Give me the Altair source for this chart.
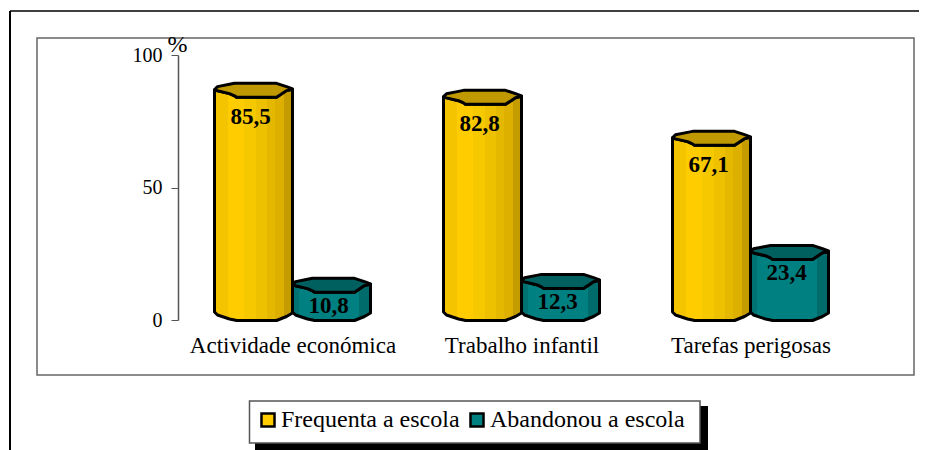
import altair as alt
import pandas as pd

categories = ["Actividade económica", "Trabalho infantil", "Tarefas perigosas"]
series = ["Frequenta a escola", "Abandonou a escola"]
frequenta = [85.5, 82.8, 67.1]
abandonou = [10.8, 12.3, 23.4]
y_ticks = [0, 50, 100]

SERIF = "Liberation Serif"
STEP = 229.0      # px per category
UNIT = 2.65       # px per y unit
BAR = 78.0
# 3-D look of the octagonal cylinder, in px around its top and base centre lines
PX = [0, 3, 15, 20, 22, 60, 62, 72, 78]
UP = [-0.5, -3.7, -6, -7, -7, -7, -7, -3.7, -1.5]
LOW = [-0.5, 0.5, 3.3, 5.5, 7, 7, 7, 0.3, -1]
BASE = [-1.5, 1.5, 5.5, 6.5, 7, 7, 7, 3, -0.5]
BASE_C = 6.5 / UNIT


def top_c(v):
    return BASE_C + v * 0.985


rows, labels = [], []
for s, (name, vals) in enumerate(zip(series, [frequenta, abandonou])):
    for i, v in enumerate(vals):
        left = i + 0.5 + (s - 1) * BAR / STEP
        bar = f"{s}-{i}"
        for px, u, l, b in zip(PX, UP, LOW, BASE):
            rows.append({
                "s": name, "bar": bar, "x": left + px / STEP,
                "up": top_c(v) - u / UNIT, "low": top_c(v) - l / UNIT,
                "base": BASE_C - b / UNIT,
            })
        labels.append({
            "s": name, "x": left + BAR / 2 / STEP, "y": top_c(v),
            "t": f"{v:.1f}".replace(".", ","),
        })
df = pd.DataFrame(rows)
lab = pd.DataFrame(labels)


def grad(stops):
    out = []
    for k, (a, b, c) in enumerate(stops):
        out += [alt.GradientStop(offset=a, color=c), alt.GradientStop(offset=b, color=c)]
    return alt.LinearGradient(gradient="linear", stops=out, x1=0, x2=1, y1=0, y2=0)


YEL = grad([(0, .17, "#F5C400"), (.17, .38, "#FFCC00"), (.38, .53, "#F6C800"), (.53, .67, "#EDC000"),
            (.67, .78, "#E5B800"), (.78, .89, "#DDB000"), (.89, 1, "#C49C00")])
TEA = grad([(0, .08, "#007272"), (.08, .85, "#008080"), (.85, 1, "#006B6B")])
TOPS = {series[0]: "#C09900", series[1]: "#006060"}
BODY = {series[0]: YEL, series[1]: TEA}

xs = alt.Scale(domain=[0, 3], nice=False, zero=False)
ys = alt.Scale(domain=[0, 100], nice=False)
X = alt.X("x:Q", scale=xs, axis=alt.Axis(
    values=[0.5, 1.5, 2.5], title=None, domain=False, ticks=False, grid=False,
    labelExpr=f"{categories!r}[floor(datum.value)]", labelFont=SERIF, labelFontSize=23,
    labelLimit=400, labelColor="black", labelPadding=14, labelOverlap=False, labelFlush=False, zindex=1))
Y = alt.Y("low:Q", scale=ys, axis=alt.Axis(
    values=y_ticks, title="%", titleAngle=0, titleX=-1, titleY=-11, titleAlign="center",
    titleBaseline="middle", titleFont=SERIF,
    titleFontSize=24, titleFontWeight="normal", titleColor="black",
    grid=False, domainColor="#555555", domainWidth=1.5, tickColor="#555555", tickSize=7,
    labelFont=SERIF, labelFontSize=20, labelColor="black", labelPadding=9, zindex=1))

one = pd.DataFrame({"a": [0]})
layers = []
# decoration: page frames, the legend shadow and the legend box
layers.append(alt.Chart(one).mark_rule(color="black", strokeWidth=1.5).encode(
    x=alt.value(-168), x2=alt.value(749), y=alt.value(-44)))
layers.append(alt.Chart(one).mark_rule(color="black", strokeWidth=2).encode(
    x=alt.value(-168), y=alt.value(-44), y2=alt.value(395)))
layers.append(alt.Chart(one).mark_rect(fill="white", stroke="#666666", strokeWidth=1.5).encode(
    x=alt.value(-141), x2=alt.value(736), y=alt.value(-17), y2=alt.value(320)))
layers.append(alt.Chart(one).mark_rect(fill="black").encode(
    x=alt.value(77), x2=alt.value(530), y=alt.value(351), y2=alt.value(395)))
layers.append(alt.Chart(one).mark_rect(fill="white", stroke="#555555", strokeWidth=1.5).encode(
    x=alt.value(71.5), x2=alt.value(522), y=alt.value(346), y2=alt.value(388)))

for name in series:
    d = df[df.s == name]
    layers.append(alt.Chart(d).mark_area(color=BODY[name], orient="vertical", stroke="black", strokeWidth=3, strokeJoin="round").encode(
        x=X, y=Y, y2="base:Q", detail="bar:N"))
    layers.append(alt.Chart(d).mark_area(color=TOPS[name], orient="vertical", stroke="black", strokeWidth=3, strokeJoin="round").encode(
        x=alt.X("x:Q", scale=xs), y=alt.Y("up:Q", scale=ys), y2="low:Q", detail="bar:N"))

legend = alt.Legend(
    orient="none", legendX=69, legendY=344, direction="horizontal", columns=2, title=None,
    padding=9, symbolType="square", symbolSize=170,
    symbolStrokeColor="black", symbolStrokeWidth=2.5, labelFont=SERIF, labelFontSize=24, labelLimit=300,
    labelColor="black", columnPadding=5, labelOffset=1, symbolOpacity=1)
layers.append(alt.Chart(lab).mark_square(size=0).encode(
    x=alt.X("x:Q", scale=xs), y=alt.Y("y:Q", scale=ys),
    fill=alt.Fill("s:N", sort=series, scale=alt.Scale(domain=series, range=["#FFCC00", "#008080"]), legend=legend)))

for name, dy in zip(series, [27, 21]):
    layers.append(alt.Chart(lab[lab.s == name]).mark_text(
        font=SERIF, fontSize=23, fontWeight="bold", color="black", dy=dy, dx=-3).encode(
        x=alt.X("x:Q", scale=xs), y=alt.Y("y:Q", scale=ys), text="t:N"))

chart = alt.layer(*layers).properties(
    width=STEP * 3, height=UNIT * 100,
    autosize=alt.AutoSizeParams(type="none"),
    padding={"left": 170, "top": 47, "right": 54, "bottom": 130},
    background="white",
).configure_view(stroke=None)

chart.save("out.html", embed_options={"renderer": "svg", "actions": False})
